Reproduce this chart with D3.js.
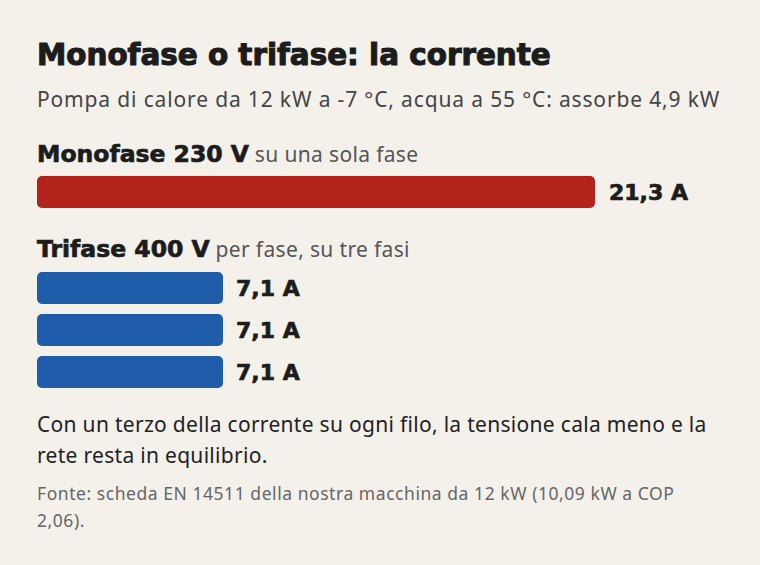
<!DOCTYPE html>
<html><head><meta charset="utf-8">
<script src="https://cdn.jsdelivr.net/npm/d3@7"></script>
<style>
html,body{margin:0;padding:0;background:#f4f1eb;}
svg{display:block;}
</style></head><body>
<script>
const title = "Monofase o trifase: la corrente";
const subtitle = "Pompa di calore da 12 kW a -7 °C, acqua a 55 °C: assorbe 4,9 kW";
const groups = [
  {name:"Monofase 230 V", note:"su una sola fase", color:"#b2231b"},
  {name:"Trifase 400 V", note:"per fase, su tre fasi", color:"#1f5dab"}
];
const monoValues = [21.3];
const triValues = [7.1, 7.1, 7.1];
const valueLabels = {mono:["21,3 A"], tri:["7,1 A","7,1 A","7,1 A"]};
const noteLines = ["Con un terzo della corrente su ogni filo, la tensione cala meno e la","rete resta in equilibrio."];
const sourceLines = ["Fonte: scheda EN 14511 della nostra macchina da 12 kW (10,09 kW a COP","2,06)."];

const W=760,H=565;
const font = "'Noto Sans', 'Open Sans', sans-serif";
const heavy = "'DejaVu Sans', sans-serif";
const svg = d3.select("body").append("svg").attr("width",W).attr("height",H);
svg.append("rect").attr("width",W).attr("height",H).attr("fill","#f4f1eb");

function fitWidth(sel, target){
  const w = sel.node().getComputedTextLength();
  const fs = parseFloat(sel.attr("font-size"));
  sel.attr("font-size", fs*target/w);
}

const t1 = svg.append("text").attr("x",37).attr("y",65).text(title)
  .attr("font-family",heavy).attr("font-weight",700).attr("font-size",30).attr("fill","#1c1c1c")
  .attr("stroke","#1c1c1c").attr("stroke-width",1.1);
fitWidth(t1, 514);
svg.append("text").attr("x",37).attr("y",107).text(subtitle)
  .attr("font-family",font).attr("font-size",21).attr("letter-spacing",0.85).attr("fill","#444");

const x = d3.scaleLinear().domain([0,21.3]).range([37,595]);

function header(g,y){
  const t = svg.append("text").attr("x",37).attr("y",y);
  t.append("tspan").text(g.name).attr("font-weight",700).attr("font-family",heavy).attr("font-size",23.5)
    .attr("fill","#1c1c1c").attr("stroke","#1c1c1c").attr("stroke-width",0.7);
  t.append("tspan").text(" "+g.note).attr("font-family",font).attr("font-size",21).attr("letter-spacing",0.35).attr("fill","#555");
}
header(groups[0],162);
header(groups[1],257);

const yMono = d3.scaleBand().domain(d3.range(monoValues.length)).range([176,208]);
svg.selectAll("rect.mono").data(monoValues).join("rect").attr("class","mono")
  .attr("x",x(0)).attr("y",(d,i)=>yMono(i)).attr("width",d=>x(d)-x(0)).attr("height",yMono.bandwidth())
  .attr("rx",5).attr("fill",groups[0].color);
svg.selectAll("text.monol").data(monoValues).join("text").attr("class","monol")
  .attr("x",d=>x(d)+14).attr("y",(d,i)=>yMono(i)+yMono.bandwidth()/2).attr("dy","0.36em")
  .text((d,i)=>valueLabels.mono[i]).attr("font-family",heavy).attr("font-weight",700).attr("font-size",22)
  .attr("fill","#1c1c1c").attr("stroke","#1c1c1c").attr("stroke-width",0.7);

const yTri = d3.scaleBand().domain(d3.range(triValues.length)).range([272,388]).paddingInner(0.24);
svg.selectAll("rect.tri").data(triValues).join("rect").attr("class","tri")
  .attr("x",x(0)).attr("y",(d,i)=>yTri(i)).attr("width",d=>x(d)-x(0)).attr("height",yTri.bandwidth())
  .attr("rx",5).attr("fill",groups[1].color);
svg.selectAll("text.tril").data(triValues).join("text").attr("class","tril")
  .attr("x",d=>x(d)+13).attr("y",(d,i)=>yTri(i)+yTri.bandwidth()/2).attr("dy","0.36em")
  .text((d,i)=>valueLabels.tri[i]).attr("font-family",heavy).attr("font-weight",700).attr("font-size",22)
  .attr("fill","#1c1c1c").attr("stroke","#1c1c1c").attr("stroke-width",0.7);

noteLines.forEach((l,i)=>svg.append("text").attr("x",37).attr("y",432+i*31).text(l)
  .attr("font-family",font).attr("font-size",21).attr("letter-spacing",0.3).attr("fill","#222"));
sourceLines.forEach((l,i)=>svg.append("text").attr("x",37).attr("y",500+i*27).text(l)
  .attr("font-family",font).attr("font-size",17.5).attr("letter-spacing",0.55).attr("fill","#666"));
</script>
</body></html>
